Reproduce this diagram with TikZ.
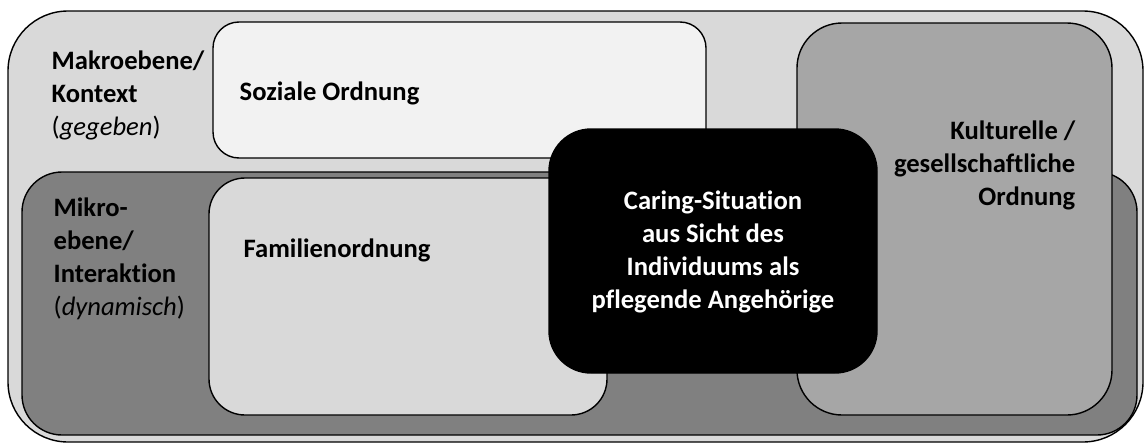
\documentclass[tikz,border=0pt]{standalone}
\usepackage{fontspec}
\setmainfont{Carlito}[Ligatures=CommonOff]
\definecolor{makrogray}{HTML}{D9D9D9}
\definecolor{mikrogray}{HTML}{808080}
\definecolor{sozialgray}{HTML}{F2F2F2}
\definecolor{familiegray}{HTML}{D9D9D9}
\definecolor{kulturgray}{HTML}{A6A6A6}

\begin{document}
\begin{tikzpicture}[x=1pt, y=-1pt, line width=1.4pt,
  ebene/.style={draw=black, rounded corners=#1},
  txt/.style={inner sep=0pt, align=left, font=\fontsize{26.6}{33}\selectfont},
  btxt/.style={txt, font=\fontsize{26.6}{33}\selectfont\bfseries}]
  \useasboundingbox (0,0) rectangle (1146,447);
  % levels, back to front
  \draw[ebene=60, fill=makrogray] (8,11) rectangle (1143,442);
  \draw[ebene=40, fill=mikrogray] (22,172) rectangle (1137,435);
  \draw[ebene=26, fill=sozialgray] (213,22) rectangle (706,158);
  \draw[ebene=36, fill=familiegray] (209,178) rectangle (607,415);
  \draw[ebene=45, fill=kulturgray] (797,23) rectangle (1112,415);
  \draw[ebene=42, fill=black] (549,129) rectangle (877,373);
  % labels
  \node[txt, anchor=west] (makro) at (51,95) {\textbf{Makroebene/}\\\textbf{Kontext}\\(\textit{gegeben})};
  \node[txt, anchor=west] (mikro) at (53,259) {\textbf{Mikro-}\\\textbf{ebene/}\\\textbf{Interaktion}\\(\textit{dynamisch})};
  \node[btxt, anchor=west] (sozial) at (239,93) {Soziale Ordnung};
  \node[btxt, anchor=west] (familie) at (243,250) {Familienordnung};
  \node[btxt, anchor=east, align=right] (kultur) at (1076,165) {Kulturelle /\\gesellschaftliche\\Ordnung};
  \node[btxt, align=center, text=white] (caring) at (713,252) {Caring-Situation\\aus Sicht des\\Individuums als\\pflegende Angehörige};
\end{tikzpicture}
\end{document}
